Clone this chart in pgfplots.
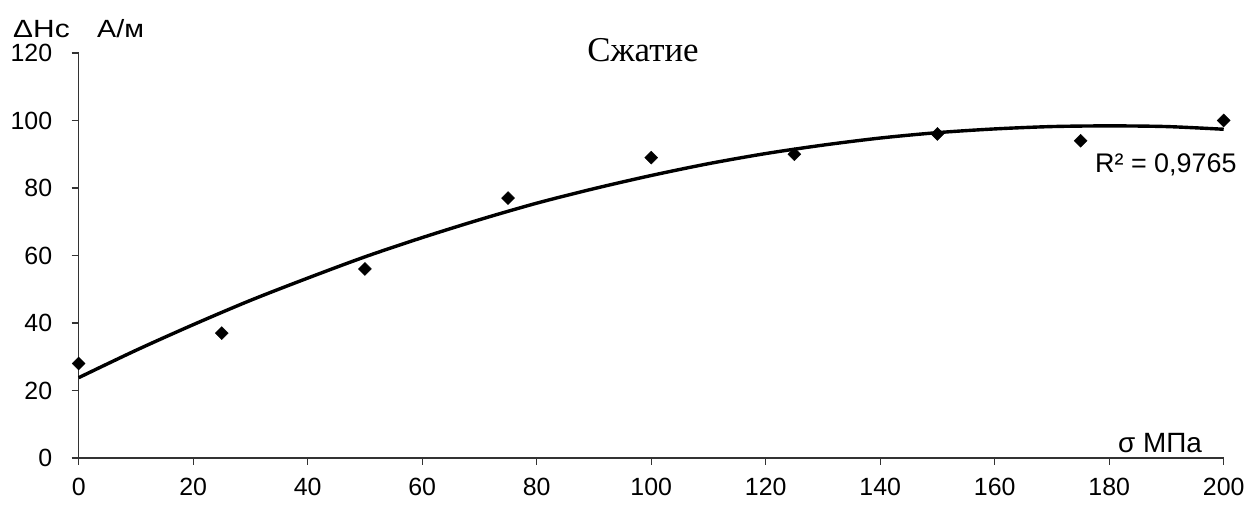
\documentclass[border=0pt]{standalone}
\usepackage{fontspec}
\setmainfont{Liberation Sans}
\newfontfamily\serifrus{Liberation Serif}
\usepackage{pgfplots}
\pgfplotsset{compat=1.18}

\begin{document}
\begin{tikzpicture}[x=1bp,y=1bp]
\path[use as bounding box] (0,0) rectangle (1250,506);
\begin{axis}[
    at={(78.7bp,48bp)}, anchor=south west,
    scale only axis,
    width=1145bp, height=405bp,
    xmin=0, xmax=200, ymin=0, ymax=120,
    axis x line*=bottom, axis y line*=left,
    axis line style={line width=1.2bp, black!80},
    xtick={0,20,...,200}, ytick={0,20,...,120},
    tick align=outside, major tick length=7bp,
    tick style={line width=1.2bp, black!80},
    tick label style={font=\fontsize{25}{29}\selectfont, /pgf/number format/assume math mode=true},
    xticklabel style={yshift=-10bp},
    yticklabel style={xshift=-16bp},
    clip=false,
]
% fitted quadratic trend
\addplot[black, line width=3.4bp, smooth] coordinates {
  (0,23.8) (10,31.9) (20,39.5) (30,46.7) (40,53.3) (50,59.6) (60,65.3)
  (70,70.6) (80,75.5) (90,79.8) (100,83.7) (110,87.2) (120,90.2)
  (130,92.7) (140,94.8) (150,96.4) (160,97.5) (170,98.2) (180,98.4)
  (190,98.2) (200,97.4)
};
% measured points
\addplot[only marks, mark=square*, mark size=4.6bp, mark options={rotate=45, fill=black, draw=black}] coordinates {
  (0,28) (25,37) (50,56) (75,77) (100,89) (125,90) (150,96) (175,94) (200,100)
};
\end{axis}
\node[anchor=base west, inner sep=0, xscale=1.2, transform shape, font=\fontsize{25}{29}\selectfont] at (13,468) {ΔHc};
\node[anchor=base west, inner sep=0, xscale=1.15, transform shape, font=\fontsize{25}{29}\selectfont] at (97,468) {А/м};
\node[anchor=base, inner sep=0, font=\serifrus\fontsize{35}{40}\selectfont] at (643,444) {Сжатие};
\node[anchor=base west, inner sep=0, font=\fontsize{27}{31}\selectfont] at (1095,333) {R² = 0,9765};
\node[anchor=base west, inner sep=0, font=\fontsize{28}{32}\selectfont] at (1118,53) {σ МПа};
\end{tikzpicture}
\end{document}
